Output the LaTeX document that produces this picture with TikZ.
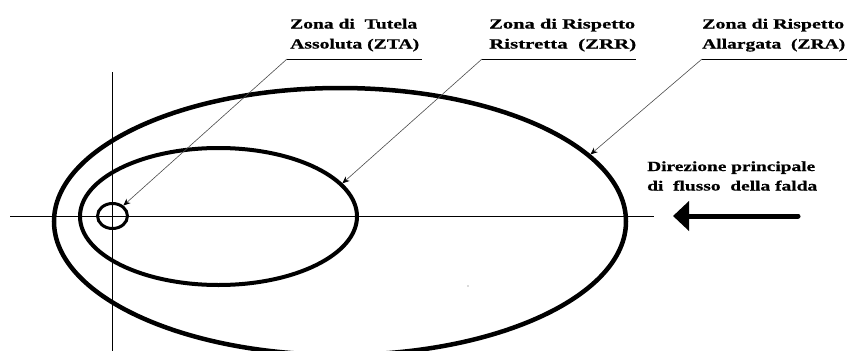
\documentclass[tikz,border=0pt]{standalone}
\usepackage{fontspec}
\usepackage{graphicx}
\newfontfamily\lblfont[FakeStretch=1.35,FakeBold=0.6]{Liberation Serif Bold}
\newcommand\lblw[2]{\resizebox{#1}{\height}{#2}}
\usetikzlibrary{shapes.geometric,arrows.meta}
\tikzset{
  lbl/.style={anchor=base west, inner sep=0pt, font=\lblfont\fontsize{14}{18}\selectfont},
  zone/.style={draw, ellipse, inner sep=0pt, line width=#1},
  leader/.style={draw=black!70, line width=0.6pt, -{Stealth[length=7pt,width=6pt,color=black,fill=black]}},
  uline/.style={line width=0.8pt},
  axisline/.style={line width=0.9pt},
  flowarrow/.style={line width=5pt, line cap=round, -{Triangle[length=16pt,width=29pt]}},
}
\begin{document}
\begin{tikzpicture}[x=1pt,y=-1pt]
\useasboundingbox (0,0) rectangle (847,351);
\fill[white] (0,0) rectangle (847,351);
% axes
\coordinate (hL) at (10,216);
\coordinate (hR) at (654,216);
\coordinate (vT) at (112,72);
\coordinate (vB) at (112,351);
\draw[axisline] (hL) -- (hR);
\draw[axisline] (vT) -- (vB);
% zones
\node[zone=4.5pt, minimum width=572pt, minimum height=267pt] (zra) at (340,221.5) {};
\node[zone=4pt, minimum width=277pt, minimum height=137pt] (zrr) at (218.5,216.5) {};
\node[zone=3pt, minimum width=30pt, minimum height=25pt] (zta) at (112.5,216) {};
% labels
\node[lbl] (ztaA) at (290,28.5) {\lblw{127pt}{Zona di\ \ Tutela}};
\node[lbl] (ztaB) at (290,48.5) {\lblw{129pt}{Assoluta (ZTA)}};
\node[lbl] (zrrA) at (489,28.5) {\lblw{146pt}{Zona di Rispetto}};
\node[lbl] (zrrB) at (489,48.5) {\lblw{147pt}{Ristretta\ \ (ZRR)}};
\node[lbl] (zraA) at (702,28.5) {\lblw{142pt}{Zona di Rispetto}};
\node[lbl] (zraB) at (702,48.5) {\lblw{143pt}{Allargata\ \ (ZRA)}};
\node[lbl] (dirA) at (647,171) {\lblw{168pt}{Direzione principale}};
\node[lbl] (dirB) at (647,190.5) {\lblw{170pt}{di\ \ flusso\ \ della falda}};
% underlines and leaders
\coordinate (uA) at (287,59);
\coordinate (uAe) at (422,59);
\coordinate (uR) at (482,59);
\coordinate (uRe) at (636,59);
\coordinate (uZ) at (702,59);
\coordinate (uZe) at (847,59);
\draw[uline] (uA) -- (uAe);
\draw[uline] (uR) -- (uRe);
\draw[uline] (uZ) -- (uZe);
\draw[leader] (uA) -- (zta.44);
\draw[leader] (uR) -- (zrr.15);
\draw[leader] (uZ) -- (zra.15);
% flow arrow
\coordinate (aT) at (798,216);
\coordinate (aH) at (673,216);
\draw[flowarrow] (aT) -- (aH);
% speck
\fill[black!60] (468,286) circle (0.6);
\end{tikzpicture}
\end{document}
